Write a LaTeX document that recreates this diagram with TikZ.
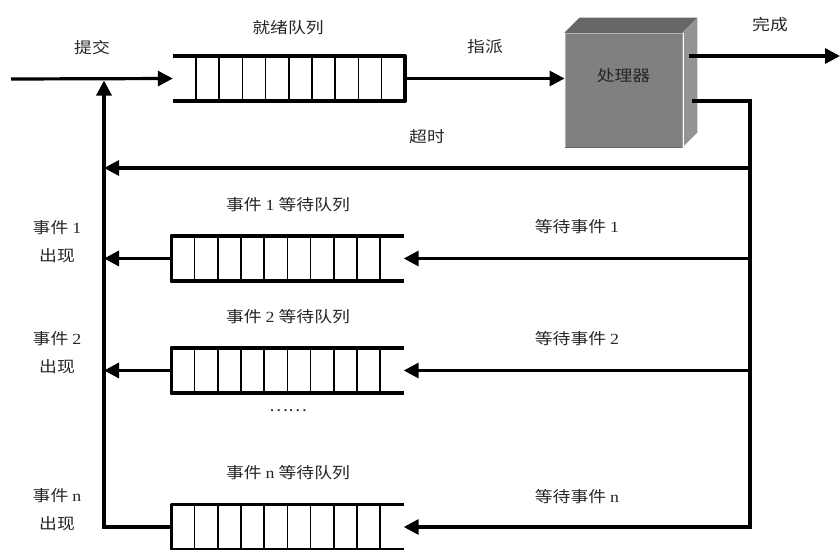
\documentclass[tikz,border=0pt]{standalone}
\usepackage{fontspec}
\setmainfont[FakeStretch=1.15]{Liberation Serif}
\newfontfamily\cjk[FakeStretch=1.15]{Noto Sans CJK SC}
\usetikzlibrary{positioning, arrows.meta}

\definecolor{cpufront}{HTML}{808080}
\definecolor{cputop}{HTML}{666666}
\definecolor{cpuside}{HTML}{939393}

\tikzset{
  flow/.style={line width=3.2pt, -{Triangle[length=15pt,width=15pt]}},
  wire/.style={line width=3.2pt},
  queue/.style={minimum width=232pt, minimum height=45pt, inner sep=0pt},
  qline/.style={line width=3.5pt, line join=round},
  cell/.style={line width=1.6pt},
  lbl/.style={font=\cjk\fontsize{15.5}{28}\selectfont, text=black!85, align=center, inner sep=0pt},
}
\newcommand{\lat}[1]{{\rmfamily #1}}

\begin{document}
\begin{tikzpicture}[x=1pt, y=-1pt]
    \useasboundingbox (0,0) rectangle (840,549);

    % Queues
    \node (rq) [queue] at (289,78.5) {};
    \node (q1) [queue] at (287.5,258.5) {};
    \node (q2) [queue] at (287.5,370.5) {};
    \node (qn) [queue] at (287.5,527) {};

    \draw[qline] (rq.north west) -- (rq.north east) -- (rq.south east) -- (rq.south west);
    \foreach \k in {1,...,9}
        \draw[cell] ([xshift=\k*23.2pt]rq.north west) -- ([xshift=\k*23.2pt]rq.south west);

    \foreach \q in {q1,q2,qn} {
        \draw[qline] (\q.north east) -- (\q.north west) -- (\q.south west) -- (\q.south east);
        \foreach \k in {1,...,9}
            \draw[cell] ([xshift=\k*23.2pt]\q.north west) -- ([xshift=\k*23.2pt]\q.south west);
    }

    % Processor (3D box)
    \node (cpu) [fill=cpufront, draw=black!30, line width=0.8pt,
        minimum width=117pt, minimum height=114pt, inner sep=0pt] at (623.5,90) {};
    \fill[cputop] (cpu.north west) -- ++(15,-15) -- ([shift={(15,-15)}]cpu.north east) -- (cpu.north east) -- cycle;
    \fill[cpuside] (cpu.north east) -- ++(15,-15) -- ([shift={(15,-15)}]cpu.south east) -- (cpu.south east) -- cycle;
    \draw[white, line width=1pt] ([xshift=1pt]cpu.north east) -- ([xshift=1pt]cpu.south east);
    \draw[black!60, line width=1.5pt] (cpu.north west) -- (cpu.north east);
    \draw[black!60, line width=1.5pt] (cpu.south west) -- (cpu.south east);
    \node (lcpu) [lbl] at ([yshift=14pt]cpu.center) {处理器};

    % Fixed points
    \coordinate (src) at (11,79);
    \coordinate (done) at (840,56);
    \coordinate (join) at (104,79);
    \coordinate (corner) at (104,527);
    \coordinate (rtop) at (750,101);
    \coordinate (tmo) at (750,168);

    % Connectors
    \draw[flow] (src) -- (rq.west);
    \draw[flow] (rq.east) -- (rq.east -| cpu.west);
    \draw[flow] ([xshift=7pt]cpu.east |- done) -- (done);
    \draw[flow, line join=miter] ([xshift=10pt]cpu.east |- rtop) -- (rtop) -- (rtop |- qn.east) -- (qn.east);
    \draw[flow] (tmo) -- (tmo -| join);
    \draw[flow] (rtop |- q1.east) -- (q1.east);
    \draw[flow] (rtop |- q2.east) -- (q2.east);
    \draw[flow] (q1.west) -- (q1.west -| join);
    \draw[flow] (q2.west) -- (q2.west -| join);
    \draw[flow, line join=miter, shorten >=1.5pt] (qn.west) -- (corner) -- (join);

    % Labels
    \node (lsubmit) [lbl] at (92,48) {提交};
    \node (lready) [lbl] at (288,28) {就绪队列};
    \node (ldispatch) [lbl] at (485,47) {指派};
    \node (ldone) [lbl] at (770,25) {完成};
    \node (ltimeout) [lbl] at (427,137) {超时};
    \node (lq1) [lbl] at (288,205) {事件 \lat{1} 等待队列};
    \node (lq2) [lbl] at (288,317) {事件 \lat{2} 等待队列};
    \node (lqn) [lbl] at (288,473) {事件 \lat{n} 等待队列};
    \node (ldots) [lbl] at (288,411) {……};
    \node (lw1) [lbl] at (577,227) {等待事件 \lat{1}};
    \node (lw2) [lbl] at (577,339) {等待事件 \lat{2}};
    \node (lwn) [lbl] at (577,497) {等待事件 \lat{n}};
    \node (le1) [lbl] at (57,241.5) {事件 \lat{1}\\出现};
    \node (le2) [lbl] at (57,353) {事件 \lat{2}\\出现};
    \node (len) [lbl] at (57,510) {事件 \lat{n}\\出现};
\end{tikzpicture}
\end{document}
